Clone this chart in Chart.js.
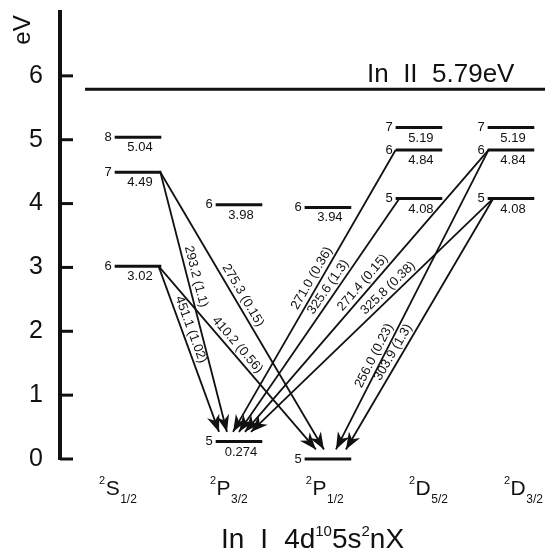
<!DOCTYPE html>
<html>
<head>
<meta charset="utf-8">
<script src="https://cdn.jsdelivr.net/npm/chart.js@4"></script>
<style>
  html, body { margin: 0; padding: 0; background: #fff; }
  #wrap { width: 552px; height: 553px; position: relative; }
</style>
</head>
<body>
<div id="wrap"><canvas id="grotrian"></canvas></div>
<script>
// ---- data ----
const termLetters = ['S', 'P', 'P', 'D', 'D'];
const termJ = ['1/2', '3/2', '1/2', '5/2', '3/2'];

// levels: term column, principal n, energy (eV), printed value
const levelTerm   = [0, 0, 0, 1, 1, 2, 2, 3, 3, 3, 4, 4, 4];
const levelN      = [8, 7, 6, 6, 5, 6, 5, 7, 6, 5, 7, 6, 5];
const levelEnergy = [5.04, 4.49, 3.02, 3.98, 0.274, 3.94, 0, 5.19, 4.84, 4.08, 5.19, 4.84, 4.08];
const levelLabel  = ['5.04', '4.49', '3.02', '3.98', '0.274', '3.94', '', '5.19', '4.84', '4.08', '5.19', '4.84', '4.08'];

// transitions (indices into the level arrays)
const lineFrom = [2, 2, 1, 1, 8, 9, 11, 12, 11, 12];
const lineTo   = [4, 6, 4, 6, 4, 4, 4, 4, 6, 6];
const lineWavelength = ['451.1', '410.2', '293.2', '275.3', '271.0', '325.6', '271.4', '325.8', '256.0', '303.9'];
const lineStrength   = ['1.02', '0.56', '1.1', '0.15', '0.36', '1.3', '0.15', '0.38', '0.23', '1.3'];

const ionLimit = 5.79;
const ionLabel = 'In  II  5.79eV';
const yTicks = [0, 1, 2, 3, 4, 5, 6];

// ---- layout (x in column units) ----
const colX = [0, 1.083, 2.037, 3.013, 4];
const levelHalf = 0.25;
const arrowStartDx = [0.22, 0.22, 0.24, 0.24, -0.25, -0.21, -0.24, -0.19, -0.24, -0.19];
const arrowTipDx   = [-0.214, -0.129, -0.129, -0.043, -0.064, 0, 0.064, 0.129, 0.086, 0.193];
const arrowTipGap  = 0.15;
const labelT = [0.40, 0.46, 0.41, 0.46, 0.47, 0.40, 0.49, 0.41, 0.70, 0.63];
const ionSpan = [-0.568, 4.365];
const ionLabelX = 2.456;
const termLabelX = [-0.418, 0.772, 1.80, 2.906, 3.925];

const ink = '#111';
const fam = '"Liberation Sans", Arial, sans-serif';
const font = sz => `${sz}px ${fam}`;

function arrowEnds(i) {
    const f = lineFrom[i], t = lineTo[i];
    return [
        { x: colX[levelTerm[f]] + arrowStartDx[i], y: levelEnergy[f] },
        { x: colX[levelTerm[t]] + arrowTipDx[i], y: levelEnergy[t] + arrowTipGap }
    ];
}

const datasets = [];
datasets.push({
    data: [{ x: ionSpan[0], y: ionLimit }, { x: ionSpan[1], y: ionLimit }],
    borderColor: ink, borderWidth: 3
});
levelEnergy.forEach((e, i) => {
    const c = colX[levelTerm[i]];
    datasets.push({
        data: [{ x: c - levelHalf, y: e }, { x: c + levelHalf, y: e }],
        borderColor: ink, borderWidth: 3
    });
});
lineFrom.forEach((f, i) => {
    datasets.push({ data: arrowEnds(i), borderColor: ink, borderWidth: 1.8 });
});
datasets.forEach(d => { d.showLine = true; d.pointRadius = 0; d.fill = false; d.clip = false; });

// everything drawn on top of the lines: arrowheads and the text
const overlay = {
    id: 'overlay',
    afterDatasetsDraw(chart) {
        const { ctx, chartArea } = chart;
        const X = v => chart.scales.x.getPixelForValue(v);
        const Y = v => chart.scales.y.getPixelForValue(v);
        ctx.save();
        ctx.fillStyle = ink;
        ctx.strokeStyle = ink;

        // inward ticks
        ctx.lineWidth = 3;
        yTicks.forEach(v => {
            ctx.beginPath();
            ctx.moveTo(chartArea.left, Y(v));
            ctx.lineTo(chartArea.left + 13, Y(v));
            ctx.stroke();
        });

        // axis unit
        ctx.save();
        ctx.translate(23, 30);
        ctx.rotate(-Math.PI / 2);
        ctx.font = font(24);
        ctx.textAlign = 'center';
        ctx.textBaseline = 'middle';
        ctx.fillText('eV', 0, 0);
        ctx.restore();

        // arrowheads + labels
        lineFrom.forEach((f, i) => {
            const [a, b] = arrowEnds(i);
            const x0 = X(a.x), y0 = Y(a.y), x1 = X(b.x), y1 = Y(b.y);
            const len = Math.hypot(x1 - x0, y1 - y0);
            const ux = (x1 - x0) / len, uy = (y1 - y0) / len;
            const L = 17, W = 6.5;
            ctx.beginPath();
            ctx.moveTo(x1, y1);
            ctx.lineTo(x1 - L * ux - W * uy, y1 - L * uy + W * ux);
            ctx.lineTo(x1 - L * ux * 0.7, y1 - L * uy * 0.7);
            ctx.lineTo(x1 - L * ux + W * uy, y1 - L * uy - W * ux);
            ctx.closePath();
            ctx.fill();

            let ang = Math.atan2(y1 - y0, x1 - x0);
            if (x1 < x0) ang = Math.atan2(y0 - y1, x0 - x1);
            const px = x0 + (x1 - x0) * labelT[i];
            const py = y0 + (y1 - y0) * labelT[i];
            ctx.save();
            ctx.translate(px, py);
            ctx.rotate(ang);
            ctx.font = font(13);
            ctx.textAlign = 'center';
            ctx.textBaseline = 'bottom';
            ctx.fillText(`${lineWavelength[i]} (${lineStrength[i]})`, 0, -2);
            ctx.restore();
        });

        // level numbers and energies
        levelEnergy.forEach((e, i) => {
            const c = colX[levelTerm[i]];
            const y = Y(e);
            ctx.font = font(13);
            ctx.textAlign = 'right';
            ctx.textBaseline = 'middle';
            ctx.fillText(String(levelN[i]), X(c - levelHalf) - 3, y);
            ctx.textAlign = 'center';
            ctx.textBaseline = 'top';
            ctx.fillText(levelLabel[i], X(c) + 2, y + 4);
        });

        // ionisation limit label
        ctx.font = font(26);
        ctx.textAlign = 'left';
        ctx.textBaseline = 'alphabetic';
        ctx.fillText(ionLabel, X(ionLabelX), Y(ionLimit) - 7);

        // term symbols
        const base = chartArea.bottom;
        termLetters.forEach((L, k) => {
            let x = X(termLabelX[k]);
            ctx.font = font(11);
            ctx.fillText('2', x, base + 25);
            x += ctx.measureText('2').width + 0.5;
            ctx.font = font(21);
            ctx.fillText(L, x, base + 36);
            x += ctx.measureText(L).width + 0.5;
            ctx.font = font(12);
            ctx.fillText(termJ[k], x, base + 44);
        });

        // configuration title
        const parts = [['In', 28, 0, 16], ['I', 28, 0, 16], ['4d', 28, 0, 0], ['10', 15, -12, 0],
                       ['5s', 28, 0, 0], ['2', 15, -12, 0], ['nX', 28, 0, 0]];
        let tx = 221;
        parts.forEach(([s, sz, dy, gap]) => {
            ctx.font = font(sz);
            ctx.fillText(s, tx, base + 89 + dy);
            tx += ctx.measureText(s).width + gap;
        });

        ctx.restore();
    }
};

new Chart(document.getElementById('grotrian'), {
    type: 'scatter',
    data: { datasets },
    options: {
        responsive: true,
        maintainAspectRatio: false,
        animation: false,
        layout: { padding: { top: 12, bottom: 94, left: 0, right: 0 } },
        plugins: { legend: { display: false }, tooltip: { enabled: false } },
        elements: { line: { tension: 0 } },
        scales: {
            x: { type: 'linear', display: false, min: -0.8365, max: 4.44 },
            y: {
                min: 0,
                max: 7,
                afterBuildTicks: s => { s.ticks = yTicks.map(v => ({ value: v })); },
                afterFit: s => { s.width = 60; s.paddingTop = 0; s.paddingBottom = 0; },
                grid: { display: true, drawOnChartArea: false, drawTicks: false },
                border: { display: true, width: 4, color: ink },
                ticks: { padding: 17, color: ink, font: { family: fam, size: 25, lineHeight: 1 } }
            }
        }
    },
    plugins: [overlay]
});
</script>
</body>
</html>
